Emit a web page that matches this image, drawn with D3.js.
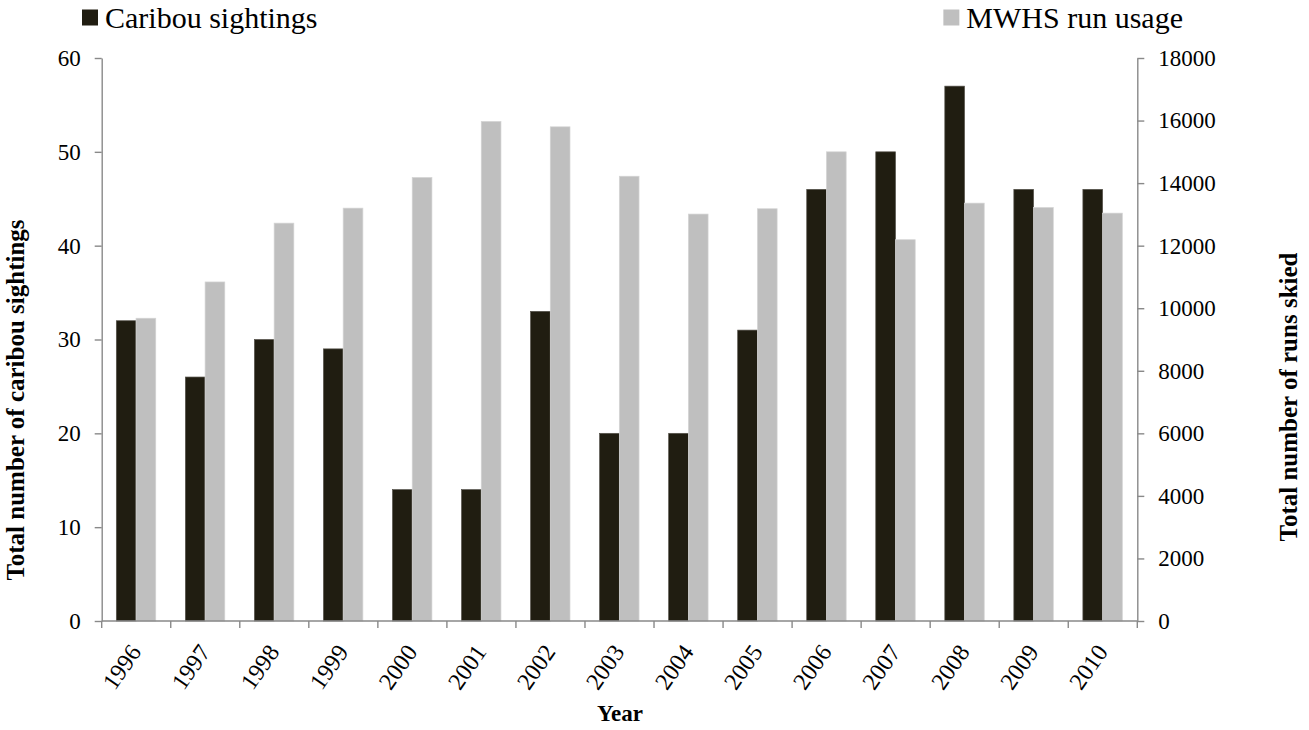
<!DOCTYPE html>
<html>
<head>
<meta charset="utf-8">
<script src="https://cdn.jsdelivr.net/npm/d3@7"></script>
<style>
  html, body { margin: 0; padding: 0; background: #ffffff; }
  svg { display: block; }
  text { font-family: "Liberation Serif", "Times New Roman", serif; fill: #000; }
</style>
</head>
<body>
<svg id="chart" width="1309" height="730"></svg>
<script>
// ---- data ----
const years = ["1996","1997","1998","1999","2000","2001","2002","2003","2004","2005","2006","2007","2008","2009","2010"];
const caribouSightings = [32, 26, 30, 29, 14, 14, 33, 20, 20, 31, 46, 50, 57, 46, 46];
const runUsage = [9680, 10840, 12720, 13200, 14180, 15970, 15800, 14220, 13010, 13180, 15000, 12190, 13360, 13220, 13040];
const leftTicks = [0, 10, 20, 30, 40, 50, 60];
const rightTicks = [0, 2000, 4000, 6000, 8000, 10000, 12000, 14000, 16000, 18000];
const seriesNames = ["Caribou sightings", "MWHS run usage"];

// ---- layout ----
const FONT = "Liberation Serif, Times New Roman, serif";
const svg = d3.select("#chart");
const plot = { left: 101.7, right: 1137.3, top: 58, bottom: 621 };
const axisColor = "#898989";
const darkColor = "#201d11";
const grayColor = "#bfbfbf";

const x = d3.scaleBand().domain(years).range([plot.left, plot.right]).padding(0);
const bw = x.bandwidth();
const xs = d3.scaleBand().domain(["c", "m"]).range([bw * 0.212, bw * 0.783]).padding(0);
const yL = d3.scaleLinear().domain([0, 60]).range([plot.bottom, plot.top]);
const yR = d3.scaleLinear().domain([0, 18000]).range([plot.bottom, plot.top]);

// ---- bars ----
const g = svg.append("g");
g.selectAll("rect.car").data(years).join("rect")
  .attr("class", "car")
  .attr("x", (d) => x(d) + xs("c"))
  .attr("width", xs.bandwidth())
  .attr("y", (d, i) => yL(caribouSightings[i]))
  .attr("height", (d, i) => yL(0) - yL(caribouSightings[i]))
  .attr("fill", darkColor)
  .attr("stroke", "#55524a").attr("stroke-width", 0.7);

g.selectAll("rect.run").data(years).join("rect")
  .attr("class", "run")
  .attr("x", (d) => x(d) + xs("m"))
  .attr("width", xs.bandwidth())
  .attr("y", (d, i) => yR(runUsage[i]))
  .attr("height", (d, i) => yR(0) - yR(runUsage[i]))
  .attr("fill", grayColor)
  .attr("stroke", "#d4d4d4").attr("stroke-width", 0.7);

// ---- axes ----
function styleAxis(sel, fontSize) {
  sel.attr("font-family", FONT);
  sel.selectAll("path.domain").attr("stroke", axisColor).attr("stroke-width", 1.4);
  sel.selectAll(".tick line").attr("stroke", axisColor).attr("stroke-width", 1.4);
  sel.selectAll(".tick text")
    .attr("font-family", FONT)
    .attr("font-size", fontSize).attr("fill", "#000");
}

const axL = svg.append("g").attr("transform", `translate(${plot.left},0)`)
  .call(d3.axisLeft(yL).tickValues(leftTicks).tickFormat(d3.format("d"))
    .tickSize(7).tickPadding(14).tickSizeOuter(0));
styleAxis(axL, 23);

const axR = svg.append("g").attr("transform", `translate(${plot.right},0)`)
  .call(d3.axisRight(yR).tickValues(rightTicks).tickFormat(d3.format("d"))
    .tickSize(7).tickPadding(14).tickSizeOuter(0));
styleAxis(axR, 23);

// x axis: line + ticks at band boundaries
const xAxisG = svg.append("g");
xAxisG.append("line")
  .attr("x1", plot.left).attr("x2", plot.right)
  .attr("y1", plot.bottom).attr("y2", plot.bottom)
  .attr("stroke", axisColor).attr("stroke-width", 1.4);
const boundaries = years.map((d) => x(d)).concat([plot.right]);
xAxisG.selectAll("line.xt").data(boundaries).join("line")
  .attr("class", "xt")
  .attr("x1", (d) => d).attr("x2", (d) => d)
  .attr("y1", plot.bottom).attr("y2", plot.bottom + 7)
  .attr("stroke", axisColor).attr("stroke-width", 1.4);
xAxisG.selectAll("text.xl").data(years).join("text")
  .attr("class", "xl")
  .attr("transform", (d) => `translate(${x(d) + bw / 2 + 6},${plot.bottom + 31}) rotate(-55)`)
  .attr("text-anchor", "end")
  .attr("font-family", FONT)
  .attr("font-size", 24)
  .text((d) => d);

// ---- axis titles ----
svg.append("text")
  .attr("x", 620).attr("y", 721)
  .attr("text-anchor", "middle")
  .attr("font-family", FONT)
  .attr("font-size", 23).attr("font-weight", "bold")
  .text("Year");

svg.append("text")
  .attr("transform", "translate(24,400) rotate(-90)")
  .attr("text-anchor", "middle")
  .attr("font-family", FONT)
  .attr("font-size", 25).attr("font-weight", "bold")
  .text("Total number of caribou sightings");

svg.append("text")
  .attr("transform", "translate(1297,397) rotate(-90)")
  .attr("text-anchor", "middle")
  .attr("font-family", FONT)
  .attr("font-size", 25).attr("font-weight", "bold")
  .text("Total number of runs skied");

// ---- legend ----
svg.append("rect").attr("x", 82).attr("y", 9.5).attr("width", 16).attr("height", 16).attr("fill", darkColor);
svg.append("text").attr("x", 105).attr("y", 28)
  .attr("font-family", FONT).attr("font-size", 30).text(seriesNames[0]);

const rt = svg.append("text").attr("x", 1183).attr("y", 28).attr("text-anchor", "end")
  .attr("font-family", FONT).attr("font-size", 30).text(seriesNames[1]);
const rtw = rt.node().getComputedTextLength();
svg.append("rect").attr("x", 1183 - rtw - 23).attr("y", 9.5).attr("width", 16).attr("height", 16).attr("fill", grayColor);
</script>
</body>
</html>
